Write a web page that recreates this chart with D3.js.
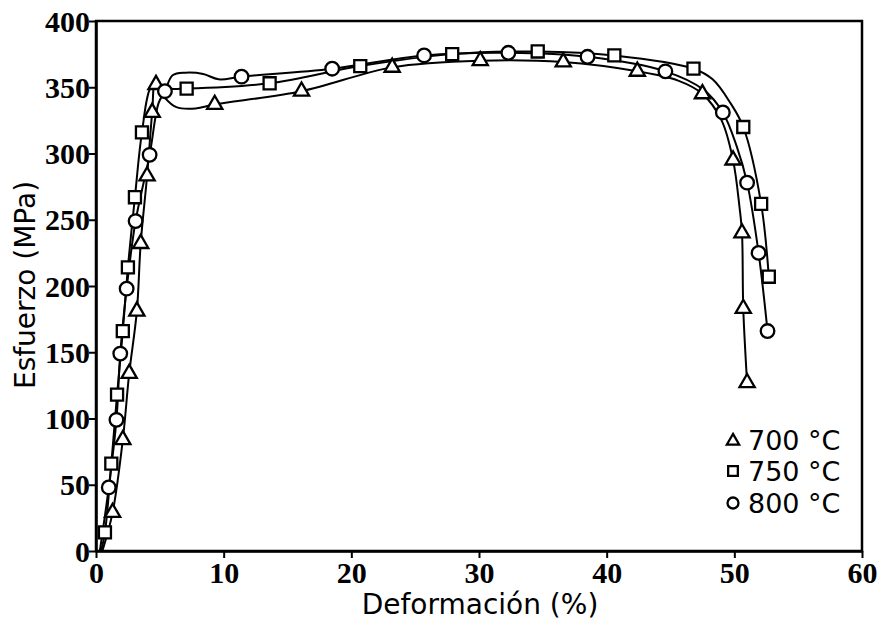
<!DOCTYPE html>
<html>
<head>
<meta charset="utf-8">
<script src="https://cdn.jsdelivr.net/npm/d3@7"></script>
<style>
  html, body { margin: 0; padding: 0; background: #fff; }
  svg { display: block; }
</style>
</head>
<body>
<svg id="chart" width="879" height="624"></svg>
<script>
// ---- Data (strain %, stress MPa) ----
const series = ["700 °C", "750 °C", "800 °C"];
const symbols = ["triangle", "square", "circle"];

// Marker points
const m700 = [[1.3,29],[2.1,84],[2.6,134],[3.2,181],[3.5,232],[4.0,283],[4.4,331],[4.7,352],[9.3,337],[16.1,347],[23.2,365],[30.1,370],[36.6,369],[42.4,362],[47.5,345],[49.9,295],[50.6,240],[50.7,183],[51.0,127]];
const m750 = [[0.7,14],[1.2,66],[1.65,118],[2.1,166],[2.5,214],[3.05,267],[3.6,316],[7.1,349],[13.6,353],[20.7,366],[27.9,375],[34.6,377],[40.6,374],[46.8,364],[50.7,320],[52.1,262],[52.7,207]];
const m800 = [[1.0,48],[1.6,99],[1.9,149],[2.4,198],[3.1,249],[4.2,299],[5.4,347],[11.4,358],[18.5,364],[25.7,374],[32.3,376],[38.5,373],[44.6,362],[49.1,331],[51.0,278],[51.9,225],[52.6,166]];

// Curve points (line path through the data, incl. unmarked bends)
const c700 = [[0.5,0],[1.3,29],[2.1,84],[2.6,134],[3.2,181],[3.5,232],[4.0,283],[4.4,331],[4.65,354],[5.4,342],[6.3,335],[7.8,334],[9.3,337],[16.1,347],[23.2,365],[30.1,370],[36.6,369],[42.4,362],[45.6,355],[47.5,345],[49.0,325],[49.9,295],[50.4,260],[50.6,240],[50.7,183],[51.0,127]];
const c750 = [[0.4,0],[0.7,14],[1.2,66],[1.65,118],[2.1,166],[2.5,214],[3.05,267],[3.6,316],[4.3,350],[4.8,352],[5.6,349],[7.1,349],[13.6,353],[20.7,366],[27.9,375],[34.6,377],[40.6,374],[46.8,364],[48.3,356],[49.7,338],[50.7,320],[52.1,262],[52.7,207]];
const c800 = [[0.3,0],[1.0,48],[1.6,99],[1.9,149],[2.4,198],[3.1,249],[4.2,299],[4.9,338],[5.4,347],[6.0,359],[7.0,361],[8.4,360],[9.6,356],[11.4,358],[18.5,364],[25.7,374],[32.3,376],[38.5,373],[44.6,362],[47.6,348],[49.1,331],[50.2,305],[51.0,278],[51.9,225],[52.6,166]];

const markerSets = [m700, m750, m800];
const curveSets = [c700, c750, c800];

const xTicks = [0,10,20,30,40,50,60];
const yTicks = [0,50,100,150,200,250,300,350,400];

// ---- Drawing ----
const svg = d3.select("#chart");
const L = 96, R = 862, T = 21, B = 551;

const x = d3.scaleLinear().domain([0,60]).range([L,R]);
const y = d3.scaleLinear().domain([0,400]).range([B,T]);

// frame
svg.append("rect")
  .attr("x", L).attr("y", T).attr("width", R-L).attr("height", B-T)
  .attr("fill", "none").attr("stroke", "#000").attr("stroke-width", 2.5);

const serif = "'Liberation Serif', 'Times New Roman', serif";
const sans = "'DejaVu Sans', Verdana, sans-serif";

// axes
const xAxis = svg.append("g").attr("transform", `translate(0,${B})`)
  .call(d3.axisBottom(x).tickValues(xTicks).tickSize(7).tickSizeOuter(0).tickFormat(d3.format("d")));
const yAxis = svg.append("g").attr("transform", `translate(${L},0)`)
  .call(d3.axisLeft(y).tickValues(yTicks).tickSize(7).tickSizeOuter(0).tickFormat(d3.format("d")));

[xAxis, yAxis].forEach(g => {
  g.select(".domain").attr("stroke", "#000").attr("stroke-width", 2.5);
  g.selectAll(".tick line").attr("stroke", "#000").attr("stroke-width", 2);
  g.selectAll(".tick text")
    .attr("fill", "#000")
    .style("font-family", serif)
    .style("font-weight", "bold")
    .style("font-size", "30px");
});
xAxis.selectAll(".tick text").attr("y", 11).attr("dy", "0.71em");
yAxis.selectAll(".tick text").attr("x", -6).attr("dy", "0.34em");

// axis titles
svg.append("text")
  .attr("x", 480).attr("y", 614)
  .attr("text-anchor", "middle")
  .style("font-family", sans).style("font-size", "28px")
  .text("Deformación (%)");
svg.append("text")
  .attr("transform", "translate(35,285) rotate(-90)")
  .attr("text-anchor", "middle")
  .style("font-family", sans).style("font-size", "28px")
  .text("Esfuerzo (MPa)");

// lines
const line = d3.line()
  .x(d => x(d[0])).y(d => y(d[1]))
  .curve(d3.curveCatmullRom.alpha(0.5));

curveSets.forEach(c => {
  svg.append("path").datum(c)
    .attr("d", line)
    .attr("fill", "none")
    .attr("stroke", "#000")
    .attr("stroke-width", 2);
});

// markers
const symType = { triangle: d3.symbolTriangle, square: d3.symbolSquare, circle: d3.symbolCircle };
const symSize = { triangle: 100, square: 145, circle: 145 };

function drawMarker(g, type, px, py, scale) {
  const s = scale || 1;
  const sym = d3.symbol().type(symType[type]).size(symSize[type] * s);
  g.append("path")
    .attr("d", sym())
    .attr("transform", `translate(${px},${py})`)
    .attr("fill", "#fff")
    .attr("stroke", "#000")
    .attr("stroke-width", 2.3);
}

markerSets.forEach((pts, i) => {
  const g = svg.append("g");
  pts.forEach(p => drawMarker(g, symbols[i], x(p[0]), y(p[1])));
});

// legend
const legY = [440, 471, 503];
series.forEach((name, i) => {
  const g = svg.append("g");
  drawMarker(g, symbols[i], 733, legY[i] + (i === 0 ? 1 : 0), 0.65);
  g.append("text")
    .attr("x", 748).attr("y", legY[i])
    .attr("dy", "0.36em")
    .style("font-family", sans).style("font-size", "27px")
    .text(name);
});
</script>
</body>
</html>
